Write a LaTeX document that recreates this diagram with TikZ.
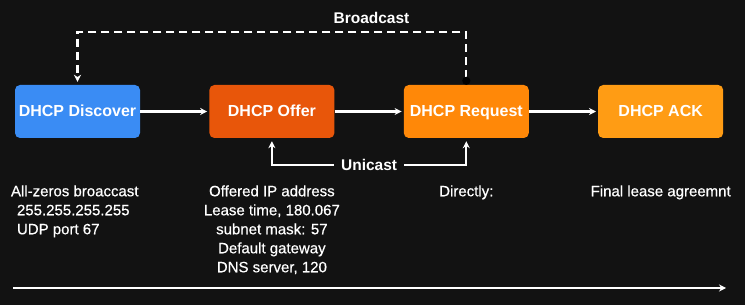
\documentclass[tikz,border=0pt]{standalone}
\usepackage{fontspec}
\setmainfont{Liberation Sans}
\newfontfamily\descfont[FakeBold=0.5]{Liberation Sans}
\usetikzlibrary{arrows.meta,positioning}

\definecolor{bg}{HTML}{121212}
\definecolor{discoverblue}{HTML}{3A8CF4}
\definecolor{offerred}{HTML}{E8560A}
\definecolor{requestorange}{HTML}{FF8808}
\definecolor{ackorange}{HTML}{FF9C14}

\tikzset{
  stage/.style={rounded corners=5pt, minimum width=125pt, minimum height=53pt,
    text height=11.5pt, text depth=0.5pt, text=white,
    font=\fontsize{16}{19}\selectfont\bfseries},
  desc/.style={text=white, inner sep=0pt, font=\descfont\fontsize{15}{19}\selectfont},
  tag/.style={text=white, inner sep=1pt, font=\fontsize{15.5}{18}\selectfont\bfseries},
  flow/.style={draw=white, line width=2.2pt, -{Stealth[length=7pt,width=7pt]}},
}

\begin{document}
\begin{tikzpicture}[x=1pt,y=1pt]
  \fill[bg] (0,0) rectangle (745,305);

  % the four messages
  \node[stage, fill=discoverblue] (discover) at (77.5,193.5) {DHCP Discover};
  \node[stage, fill=offerred, right=69pt of discover] (offer) {DHCP Offer};
  \node[stage, fill=requestorange, right=69pt of offer] (request) {DHCP Request};
  \node[stage, fill=ackorange, right=69pt of request] (ack) {DHCP ACK};

  \draw[flow, shorten >=2pt] (discover) -- (offer);
  \draw[flow, shorten >=2pt] (offer) -- (request);
  \draw[flow, shorten >=2pt] (request) -- (ack);

  % broadcast back to the discover
  \node[tag] (broadcast) at (371.5,287) {Broadcast};
  \draw[flow, dash pattern=on 8pt off 5pt, shorten >=3pt,
        {Circle[color=black,length=8pt]}-{Stealth[length=7pt,width=7pt]}]
        (request.north) -- ++(0,53) -| (discover.north);

  % unicast between offer and request
  \draw[flow, shorten <=3pt, shorten >=3pt,
        {Stealth[length=7pt,width=7pt]}-{Stealth[length=7pt,width=7pt]}]
        (offer.south) -- ++(0,-27)
        -| node[tag, pos=0.25, fill=bg, inner xsep=7pt] (unicast) {Unicast} (request.south);

  % details under each step
  \node[desc, align=left, anchor=north west] (discoverinfo)
    at ([xshift=-4pt,yshift=-47pt]discover.south west)
    {All-zeros broaccast\\\hspace*{6pt}255.255.255.255\\\hspace*{6pt}UDP port 67};
  \node[desc, align=center, below=47pt of offer] (offerinfo)
    {Offered IP address\\Lease time, 180.067\\subnet mask: 57\\Default gateway\\DNS server, 120};
  \node[desc, below=47pt of request] (requestinfo) {Directly:};
  \node[desc, below=47pt of ack] (ackinfo) {Final lease agreemnt};

  % time line
  \coordinate (tstart) at (13,17);
  \coordinate (tend) at (726,17);
  \draw[flow, line width=2.6pt] (tstart) -- (tend);
\end{tikzpicture}
\end{document}
